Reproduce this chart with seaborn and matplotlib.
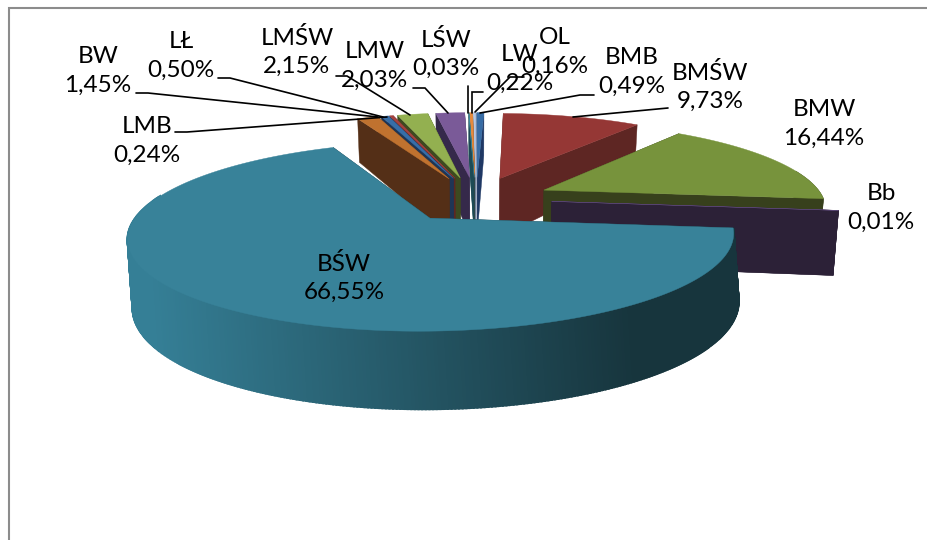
import numpy as np
import seaborn as sns
from matplotlib import pyplot as plt
from matplotlib.colors import to_rgb

categories = ['BMB', 'BMŚW', 'BMW', 'Bb', 'BŚW', 'BW', 'LŁ', 'LMB', 'LMŚW', 'LMW', 'LŚW', 'LW', 'OL']
shares = [0.49, 9.73, 16.44, 0.01, 66.55, 1.45, 0.50, 0.24, 2.15, 2.03, 0.03, 0.22, 0.16]
top_colors = ['#376ca5', '#953735', '#77933c', '#5f4a7b', '#388299', '#c0722f', '#376ea8',
              '#a5423f', '#93b050', '#7a5a98', '#3f96ad', '#e68a3c', '#b5c7e4']
side_colors = ['#1f3864', '#5e2623', '#37401c', '#2c2137', '#17353d', '#542f17', '#1f3555',
               '#5e2623', '#3d4a20', '#35294a', '#1d4a55', '#6e3f17', '#6f7f99']

# label centres and leader lines, in picture pixels
label_pos = {'BW': (98, 71), 'LŁ': (181, 56), 'LMŚW': (297, 52), 'LMW': (375, 66), 'LŚW': (446, 54),
             'LW': (520, 69), 'OL': (555, 52), 'BMB': (632, 72), 'BMŚW': (710, 87), 'BMW': (824, 124),
             'Bb': (881, 208), 'LMB': (147, 141), 'BŚW': (344, 278)}
leaders = [[(136, 93), (148, 93), (378, 117)], [(218, 78), (230, 78), (383, 117)],
           [(175, 132), (187, 132), (387, 117)], [(336, 76), (347, 76), (410, 115)],
           [(413, 88), (425, 88), (448, 113)], [(468, 86), (468, 113)],
           [(483, 92), (472, 92), (472, 113)], [(524, 77), (510, 77), (475, 112)],
           [(594, 95), (580, 95), (480, 113)], [(668, 108), (573, 117)]]

# perspective of the disc
CX, CY, SX, SY, K, EXPLODE = 476, 199, 280, 84, 0.185, 0.27


def project(U, V):
    return CX + SX * U / (1 - K * V), CY + SY * V / (1 - K * V)


def depth(V):
    return np.interp(V, [-1.2, 0.13, 1.22], [43, 65, 78])


def slice_outline(start, stop):
    # angles run clockwise from the back of the disc
    n = max(int((stop - start) / 0.01), 2) + 1
    t = np.linspace(start, stop, n)
    mid = (start + stop) / 2
    ox, oy = EXPLODE * np.sin(mid), -EXPLODE * np.cos(mid)
    return ox, oy, ox + np.sin(t), oy - np.cos(t)


def draw_wall(ax, x, y, d, color):
    # walls lean inwards a little towards the bottom
    xb = CX + (x - CX) * 0.985
    ax.fill(np.r_[x, xb[::-1]], np.r_[y, (y + d)[::-1]], color=color, lw=0.3, zorder=z[0])
    z[0] += 1


sns.set_theme(style='white')
plt.rcParams['font.family'] = ['Lato', 'DejaVu Sans']
fig, ax = plt.subplots(figsize=(9.28, 5.40), dpi=100)
fig.subplots_adjust(0, 0, 1, 1)
ax.set_xlim(0, 928)
ax.set_ylim(540, 0)
ax.axis('off')
z = [1]

edges = np.r_[0, np.cumsum(shares)] / sum(shares) * 2 * np.pi
order = sorted(range(len(shares)), key=lambda i: -np.cos((edges[i] + edges[i + 1]) / 2))
for i in order:
    big = categories[i] == 'BŚW'
    ox, oy, U, V = slice_outline(edges[i], edges[i + 1])
    x, y = project(U, V)
    ax_, ay_ = project(ox, oy)
    if big:
        x = ax_ + (x - ax_) * np.where(x > ax_, 1.027, 1.01)
    # the two cut faces, then the rim, then the top
    for k in (0, -1):
        fx, fy = np.array([ax_, x[k]]), np.array([ay_, y[k]])
        draw_wall(ax, fx, fy, depth(np.array([oy, V[k]])), side_colors[i])
    t = np.linspace(edges[i], edges[i + 1], len(x))
    front = np.cos(t) < 0.25
    if big:
        # teal rim fades from left to right, its foot sits a bit to the right
        dark, light = np.array(to_rgb('#17353d')), np.array(to_rgb('#357f96'))
        d = depth(V)
        for j in np.flatnonzero(front[:-1]):
            f = np.clip((x[j] - 150) / (630 - 150), 0, 1)
            ax.fill([x[j], x[j + 1], x[j + 1] + 5, x[j] + 5],
                    [y[j], y[j + 1], y[j + 1] + d[j + 1], y[j] + d[j]],
                    color=light + (dark - light) * f, lw=1.5, zorder=z[0])
        z[0] += 1
    elif front.any():
        draw_wall(ax, x[front], y[front], depth(V[front]), side_colors[i])
    ax.fill(np.r_[ax_, x], np.r_[ay_, y], color=top_colors[i], lw=0.3, zorder=z[0])
    z[0] += 1

# frame of the original chart
ax.plot([9, 9, 928], [540, 8, 8], color='#8c8c8c', lw=1.5, zorder=z[0], solid_joinstyle='miter')

z[0] += 1
for pts in leaders:
    ax.plot(*zip(*pts), color='black', lw=1.2, zorder=z[0], solid_joinstyle='miter')
for cat, share in zip(categories, shares):
    px, py = label_pos[cat]
    txt = f'{cat}\n{share:.2f}%'.replace('.', ',')
    ax.text(px, py, txt, ha='center', va='center', fontsize=17.5, color='black',
            linespacing=1.45, zorder=z[0] + 1)

fig.savefig('out.png', dpi=100)
